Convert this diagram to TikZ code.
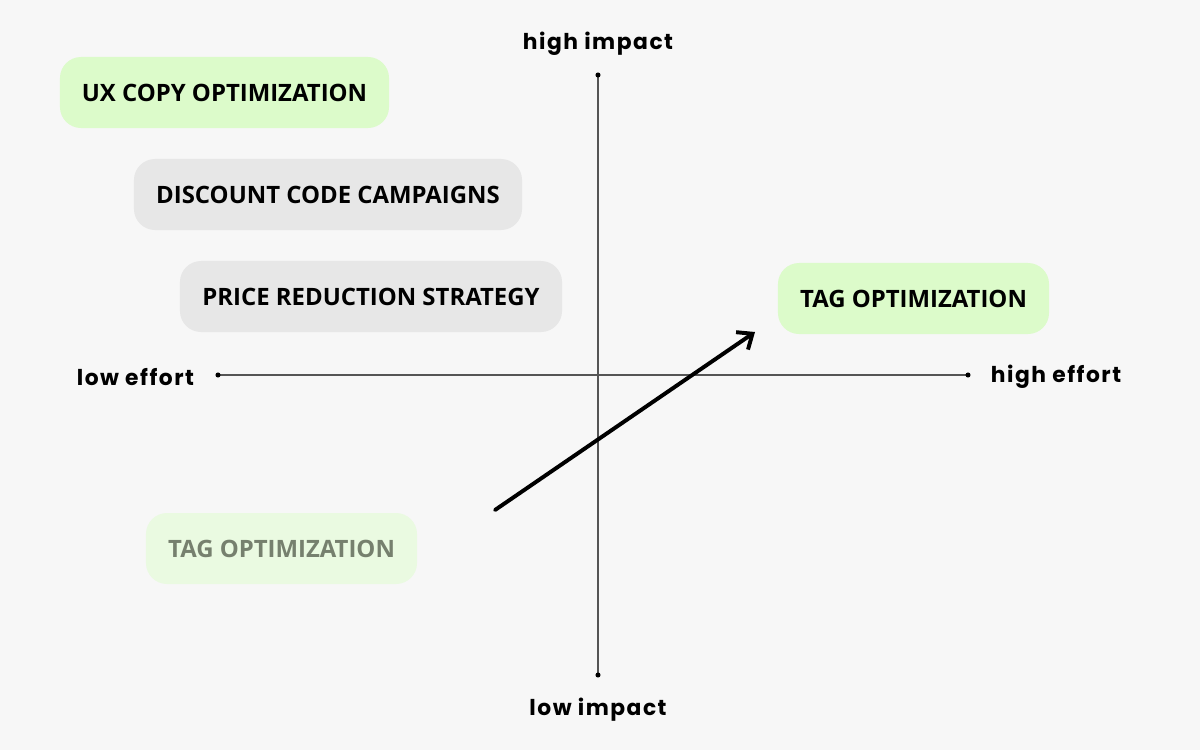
\documentclass[tikz,border=0pt]{standalone}
\usepackage{fontspec}
\setmainfont{Open Sans}
\newfontfamily\axisfont[LetterSpace=7]{Poppins}
\usetikzlibrary{arrows.meta}
\definecolor{bgcol}{HTML}{F7F7F7}
\definecolor{greenbox}{HTML}{DCFBCA}
\definecolor{paleGreen}{HTML}{EAFAE1}
\definecolor{greybox}{HTML}{E7E7E7}
\definecolor{fadedtext}{HTML}{76806E}
\definecolor{axiscol}{HTML}{555555}
\tikzset{
  idea/.style={rounded corners=15pt,minimum height=1.775cm,inner xsep=0.3cm,
    font=\fontsize{17}{20}\selectfont\bfseries},
  axislabel/.style={font=\axisfont\fontsize{15.5}{18}\selectfont\bfseries}
}
\begin{document}
\begin{tikzpicture}[>={Straight Barb[length=9pt,width=15pt]},line join=round,line cap=round,x=0.025cm,y=-0.025cm]
    \fill[bgcol] (0,0) rectangle (1200,750);
    \useasboundingbox (0,0) rectangle (1200,750);
    % axes
    \coordinate (top) at (598,75);
    \coordinate (bottom) at (598,675);
    \coordinate (left) at (218,375);
    \coordinate (right) at (968,375);
    \draw[axiscol,line width=1pt] (top)--(bottom);
    \draw[axiscol,line width=1pt] (left)--(right);
    \foreach \p in {top,bottom,left,right}
        \fill (\p) circle(1.8pt);
    \node[axislabel] (highimpact) at (598,44) {high impact};
    \node[axislabel] (lowimpact) at (598,710) {low impact};
    \node[axislabel,anchor=east] (loweffort) at (199,377) {low effort};
    \node[axislabel,anchor=west] (higheffort) at (986,377) {high effort};
    % ideas
    \node[idea,fill=greenbox,minimum width=8.225cm] (ux) at (224.5,92.5) {UX COPY OPTIMIZATION};
    \node[idea,fill=greybox,minimum width=9.7cm] (discount) at (328,194.5) {DISCOUNT CODE CAMPAIGNS};
    \node[idea,fill=greybox,minimum width=9.55cm] (price) at (371,296.5) {PRICE REDUCTION STRATEGY};
    \node[idea,fill=greenbox,minimum width=6.775cm] (tagnew) at (913.5,298.5) {TAG OPTIMIZATION};
    \node[idea,fill=paleGreen,text=fadedtext,minimum width=6.775cm] (tagold) at (281.5,548.5) {TAG OPTIMIZATION};
    % move
    \coordinate (from) at (495,510);
    \coordinate (to) at (755,332);
    \draw[->,line width=2.8pt] (from)--(to);
\end{tikzpicture}
\end{document}
